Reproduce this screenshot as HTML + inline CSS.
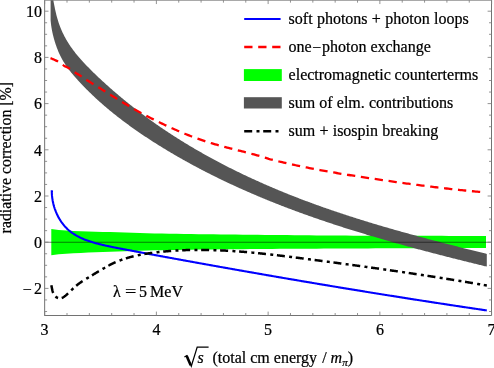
<!DOCTYPE html>
<html><head><meta charset="utf-8"><style>
html,body{margin:0;padding:0;background:#fff;}
body{width:494px;height:368px;overflow:hidden;font-family:"Liberation Serif",serif;}
svg{display:block;will-change:transform;}
text{font-family:"Liberation Serif",serif;font-size:16px;fill:#000;stroke:#000;stroke-width:0.22px;}
</style></head><body>
<svg width="494" height="368" viewBox="0 0 494 368">
<rect width="494" height="368" fill="#fff"/>
<path d="M51.30,229.00 L58.67,230.09 L66.04,230.57 L73.40,230.94 L80.77,231.24 L88.14,231.49 L95.51,231.69 L102.87,231.88 L110.24,232.07 L117.61,232.27 L124.98,232.49 L132.35,232.73 L139.71,232.97 L147.08,233.19 L154.45,233.39 L161.82,233.56 L169.18,233.69 L176.55,233.82 L183.92,233.94 L191.29,234.06 L198.66,234.16 L206.02,234.27 L213.39,234.36 L220.76,234.45 L228.13,234.54 L235.49,234.62 L242.86,234.70 L250.23,234.77 L257.60,234.85 L264.97,234.92 L272.33,234.98 L279.70,235.05 L287.07,235.12 L294.44,235.19 L301.81,235.26 L309.17,235.32 L316.54,235.38 L323.91,235.44 L331.28,235.50 L338.64,235.55 L346.01,235.59 L353.38,235.63 L360.75,235.67 L368.12,235.69 L375.48,235.72 L382.85,235.74 L390.22,235.76 L397.59,235.77 L404.95,235.79 L412.32,235.81 L419.69,235.82 L427.06,235.84 L434.43,235.85 L441.79,235.86 L449.16,235.88 L456.53,235.88 L463.90,235.89 L471.26,235.90 L478.63,235.90 L486.00,235.90 L486.00,247.90 L478.63,247.93 L471.26,247.96 L463.90,247.99 L456.53,248.02 L449.16,248.05 L441.79,248.08 L434.43,248.11 L427.06,248.14 L419.69,248.17 L412.32,248.21 L404.95,248.24 L397.59,248.27 L390.22,248.31 L382.85,248.34 L375.48,248.37 L368.12,248.41 L360.75,248.44 L353.38,248.48 L346.01,248.51 L338.64,248.54 L331.28,248.58 L323.91,248.61 L316.54,248.65 L309.17,248.69 L301.81,248.73 L294.44,248.77 L287.07,248.81 L279.70,248.86 L272.33,248.91 L264.97,248.96 L257.60,249.02 L250.23,249.08 L242.86,249.14 L235.49,249.20 L228.13,249.27 L220.76,249.34 L213.39,249.42 L206.02,249.50 L198.66,249.59 L191.29,249.68 L183.92,249.78 L176.55,249.89 L169.18,250.01 L161.82,250.14 L154.45,250.31 L147.08,250.52 L139.71,250.76 L132.35,251.03 L124.98,251.29 L117.61,251.55 L110.24,251.80 L102.87,252.04 L95.51,252.29 L88.14,252.57 L80.77,252.88 L73.40,253.25 L66.04,253.68 L58.67,254.22 L51.30,255.20 Z" fill="#00ff00"/>
<path d="M52.84,-2.93 L53.00,-1.92 L53.16,-0.90 L53.33,0.12 L53.51,1.14 L53.69,2.17 L53.88,3.20 L54.07,4.23 L54.27,5.27 L54.47,6.30 L54.68,7.34 L54.89,8.39 L55.12,9.43 L55.34,10.47 L55.58,11.52 L55.82,12.56 L56.07,13.60 L56.33,14.65 L56.59,15.69 L56.86,16.73 L57.15,17.77 L57.44,18.80 L57.75,19.84 L58.07,20.87 L58.40,21.89 L58.74,22.92 L59.09,23.94 L59.46,24.96 L59.83,25.97 L60.22,26.97 L60.62,27.97 L61.03,28.97 L61.45,29.96 L61.87,30.94 L62.31,31.92 L62.76,32.89 L63.22,33.85 L63.69,34.80 L64.16,35.74 L64.65,36.68 L65.14,37.61 L65.65,38.53 L66.16,39.43 L66.68,40.33 L67.21,41.22 L67.75,42.11 L68.29,42.98 L68.85,43.84 L69.41,44.70 L69.97,45.55 L70.55,46.39 L71.13,47.23 L71.71,48.05 L72.31,48.87 L72.90,49.69 L73.51,50.49 L74.12,51.30 L74.73,52.09 L75.35,52.88 L75.98,53.67 L76.61,54.44 L77.25,55.22 L77.89,55.99 L78.54,56.75 L79.19,57.51 L79.85,58.27 L80.51,59.02 L81.17,59.77 L81.84,60.52 L82.52,61.26 L83.20,62.00 L83.88,62.74 L84.57,63.47 L85.26,64.20 L85.96,64.93 L86.65,65.66 L87.36,66.39 L88.06,67.11 L88.77,67.84 L89.48,68.56 L90.20,69.29 L90.92,70.01 L91.64,70.73 L92.37,71.45 L93.10,72.17 L93.83,72.88 L94.57,73.60 L95.31,74.32 L96.05,75.03 L96.80,75.74 L97.55,76.46 L98.31,77.17 L99.06,77.88 L99.82,78.58 L100.58,79.29 L101.34,80.00 L102.11,80.70 L102.87,81.41 L103.64,82.11 L104.41,82.81 L105.18,83.51 L105.95,84.21 L106.73,84.91 L107.50,85.60 L108.28,86.30 L109.06,86.99 L109.84,87.68 L110.63,88.38 L111.41,89.07 L112.20,89.75 L112.99,90.44 L113.78,91.13 L114.57,91.81 L115.36,92.50 L116.16,93.18 L116.96,93.86 L117.76,94.54 L118.56,95.21 L119.36,95.89 L120.16,96.57 L120.97,97.24 L121.78,97.91 L122.59,98.58 L123.40,99.25 L124.21,99.92 L125.02,100.59 L125.84,101.25 L126.66,101.91 L127.47,102.58 L128.29,103.24 L129.12,103.90 L129.94,104.55 L130.76,105.21 L131.59,105.86 L132.42,106.52 L133.25,107.17 L134.08,107.82 L134.91,108.46 L135.74,109.11 L136.58,109.76 L137.41,110.40 L138.25,111.04 L139.09,111.68 L139.93,112.32 L140.77,112.96 L141.62,113.59 L142.46,114.22 L143.31,114.86 L144.16,115.49 L145.01,116.11 L145.86,116.74 L146.71,117.37 L147.56,117.99 L148.41,118.61 L149.27,119.23 L150.13,119.85 L150.98,120.47 L151.84,121.08 L152.70,121.69 L153.57,122.30 L154.43,122.91 L155.29,123.52 L156.16,124.13 L157.03,124.73 L157.89,125.34 L158.76,125.94 L159.63,126.54 L160.50,127.13 L161.38,127.73 L162.25,128.33 L163.13,128.92 L164.00,129.51 L164.88,130.10 L165.76,130.69 L166.64,131.27 L167.52,131.86 L168.40,132.44 L169.29,133.02 L170.17,133.60 L171.06,134.18 L171.95,134.76 L172.83,135.33 L173.72,135.90 L174.61,136.47 L175.51,137.04 L176.40,137.61 L177.29,138.18 L178.19,138.74 L179.08,139.31 L179.98,139.87 L180.88,140.43 L181.78,140.99 L182.68,141.54 L183.58,142.10 L184.48,142.65 L185.39,143.21 L186.29,143.76 L187.20,144.31 L188.10,144.85 L189.01,145.40 L189.92,145.94 L190.83,146.48 L191.74,147.03 L192.65,147.57 L193.56,148.10 L194.48,148.64 L195.39,149.17 L196.31,149.71 L197.23,150.24 L198.14,150.77 L199.06,151.30 L199.98,151.82 L200.90,152.35 L201.82,152.87 L202.75,153.39 L203.67,153.92 L204.59,154.43 L205.52,154.95 L206.45,155.47 L207.37,155.98 L208.30,156.50 L209.23,157.01 L210.16,157.52 L211.09,158.03 L212.02,158.53 L212.95,159.04 L213.89,159.54 L214.82,160.04 L215.76,160.54 L216.69,161.04 L217.63,161.54 L218.57,162.04 L219.51,162.53 L220.45,163.03 L221.39,163.52 L222.33,164.01 L223.27,164.50 L224.21,164.98 L225.15,165.47 L226.10,165.95 L227.04,166.44 L227.99,166.92 L228.94,167.40 L229.88,167.88 L230.83,168.35 L231.78,168.83 L232.73,169.30 L233.68,169.78 L234.63,170.25 L235.58,170.72 L236.54,171.19 L237.49,171.65 L238.44,172.12 L239.40,172.58 L240.35,173.04 L241.31,173.50 L242.27,173.96 L243.22,174.42 L244.18,174.88 L245.14,175.33 L246.10,175.79 L247.06,176.24 L248.02,176.69 L248.98,177.14 L249.95,177.59 L250.91,178.04 L251.87,178.48 L252.84,178.93 L253.80,179.37 L254.77,179.81 L255.73,180.25 L256.70,180.69 L257.67,181.12 L258.63,181.56 L259.60,181.99 L260.57,182.43 L261.54,182.86 L262.51,183.29 L263.48,183.72 L264.45,184.14 L265.43,184.57 L266.40,184.99 L267.37,185.42 L268.34,185.84 L269.32,186.26 L270.29,186.68 L271.27,187.10 L272.24,187.51 L273.22,187.93 L274.20,188.34 L275.17,188.75 L276.15,189.16 L277.13,189.57 L278.11,189.98 L279.09,190.39 L280.07,190.80 L281.05,191.20 L282.03,191.60 L283.01,192.00 L283.99,192.40 L284.97,192.80 L285.95,193.20 L286.94,193.60 L287.92,193.99 L288.90,194.39 L289.89,194.78 L290.87,195.17 L291.86,195.56 L292.84,195.95 L293.83,196.34 L294.81,196.72 L295.80,197.11 L296.78,197.49 L297.77,197.87 L298.76,198.25 L299.75,198.63 L300.73,199.01 L301.72,199.39 L302.71,199.76 L303.70,200.14 L304.69,200.51 L305.68,200.88 L306.67,201.25 L307.66,201.62 L308.65,201.99 L309.64,202.36 L310.64,202.73 L311.63,203.09 L312.62,203.46 L313.61,203.82 L314.61,204.18 L315.60,204.54 L316.59,204.90 L317.59,205.26 L318.58,205.61 L319.58,205.97 L320.57,206.33 L321.57,206.68 L322.57,207.03 L323.56,207.38 L324.56,207.73 L325.56,208.08 L326.55,208.43 L327.55,208.78 L328.55,209.12 L329.55,209.47 L330.55,209.81 L331.55,210.16 L332.55,210.50 L333.55,210.84 L334.55,211.18 L335.55,211.52 L336.55,211.85 L337.55,212.19 L338.55,212.53 L339.55,212.86 L340.55,213.19 L341.56,213.53 L342.56,213.86 L343.56,214.19 L344.57,214.52 L345.57,214.85 L346.57,215.18 L347.58,215.50 L348.58,215.83 L349.59,216.15 L350.59,216.48 L351.60,216.80 L352.60,217.12 L353.61,217.44 L354.62,217.77 L355.62,218.08 L356.63,218.40 L357.64,218.72 L358.65,219.04 L359.65,219.35 L360.66,219.67 L361.67,219.98 L362.68,220.30 L363.69,220.61 L364.70,220.92 L365.71,221.23 L366.72,221.54 L367.73,221.85 L368.74,222.16 L369.75,222.47 L370.76,222.77 L371.77,223.08 L372.79,223.39 L373.80,223.69 L374.81,223.99 L375.82,224.30 L376.84,224.60 L377.85,224.90 L378.86,225.20 L379.88,225.50 L380.89,225.80 L381.91,226.10 L382.92,226.40 L383.93,226.69 L384.95,226.99 L385.97,227.29 L386.98,227.58 L388.00,227.87 L389.01,228.17 L390.03,228.46 L391.05,228.75 L392.06,229.05 L393.08,229.34 L394.10,229.63 L395.12,229.92 L396.13,230.20 L397.15,230.49 L398.17,230.78 L399.19,231.07 L400.21,231.35 L401.23,231.64 L402.25,231.93 L403.27,232.21 L404.29,232.49 L405.31,232.78 L406.33,233.06 L407.35,233.34 L408.37,233.62 L409.39,233.91 L410.41,234.19 L411.43,234.47 L412.45,234.75 L413.48,235.03 L414.50,235.30 L415.52,235.58 L416.54,235.86 L417.57,236.14 L418.59,236.41 L419.61,236.69 L420.64,236.96 L421.66,237.24 L422.69,237.51 L423.71,237.79 L424.73,238.06 L425.76,238.33 L426.78,238.61 L427.81,238.88 L428.83,239.15 L429.86,239.42 L430.89,239.69 L431.91,239.96 L432.94,240.23 L433.96,240.50 L434.99,240.77 L436.02,241.04 L437.04,241.31 L438.07,241.58 L439.10,241.85 L440.13,242.12 L441.15,242.38 L442.18,242.65 L443.21,242.92 L444.24,243.18 L445.27,243.45 L446.30,243.71 L447.33,243.98 L448.35,244.24 L449.38,244.51 L450.41,244.77 L451.44,245.04 L452.47,245.30 L453.50,245.56 L454.53,245.83 L455.56,246.09 L456.59,246.35 L457.63,246.61 L458.66,246.88 L459.69,247.14 L460.72,247.40 L461.75,247.66 L462.78,247.92 L463.81,248.18 L464.85,248.44 L465.88,248.70 L466.91,248.96 L467.94,249.22 L468.97,249.48 L470.01,249.74 L471.04,250.00 L472.07,250.26 L473.11,250.52 L474.14,250.78 L475.17,251.04 L476.21,251.30 L477.24,251.56 L478.27,251.82 L479.31,252.07 L480.34,252.33 L481.38,252.59 L482.41,252.85 L483.45,253.11 L484.48,253.37 L485.52,253.62 L486.80,253.88 L486.80,266.57 L485.62,266.36 L484.77,266.16 L483.93,265.95 L483.08,265.74 L482.24,265.54 L481.39,265.33 L480.55,265.12 L479.70,264.91 L478.85,264.70 L478.01,264.50 L477.16,264.29 L476.32,264.08 L475.47,263.87 L474.62,263.66 L473.78,263.45 L472.93,263.24 L472.09,263.04 L471.24,262.83 L470.39,262.62 L469.55,262.41 L468.70,262.20 L467.85,261.99 L467.01,261.78 L466.16,261.57 L465.32,261.35 L464.47,261.14 L463.62,260.93 L462.78,260.72 L461.93,260.51 L461.08,260.30 L460.24,260.08 L459.39,259.87 L458.54,259.66 L457.70,259.45 L456.85,259.23 L456.00,259.02 L455.16,258.81 L454.31,258.59 L453.47,258.38 L452.62,258.17 L451.77,257.95 L450.93,257.74 L450.08,257.52 L449.23,257.31 L448.39,257.09 L447.54,256.88 L446.69,256.66 L445.85,256.44 L445.00,256.23 L444.15,256.01 L443.31,255.79 L442.46,255.58 L441.62,255.36 L440.77,255.14 L439.92,254.92 L439.08,254.71 L438.23,254.49 L437.39,254.27 L436.54,254.05 L435.69,253.83 L434.85,253.61 L434.00,253.39 L433.16,253.17 L432.31,252.95 L431.46,252.73 L430.62,252.51 L429.77,252.29 L428.93,252.06 L428.08,251.84 L427.23,251.62 L426.39,251.40 L425.54,251.17 L424.70,250.95 L423.85,250.73 L423.01,250.50 L422.16,250.28 L421.32,250.05 L420.47,249.83 L419.63,249.60 L418.78,249.38 L417.94,249.15 L417.09,248.93 L416.25,248.70 L415.40,248.47 L414.56,248.24 L413.71,248.02 L412.87,247.79 L412.02,247.56 L411.18,247.33 L410.34,247.10 L409.49,246.87 L408.65,246.64 L407.80,246.41 L406.96,246.18 L406.11,245.95 L405.27,245.72 L404.43,245.49 L403.58,245.26 L402.74,245.02 L401.90,244.79 L401.05,244.56 L400.21,244.32 L399.37,244.09 L398.52,243.85 L397.68,243.62 L396.84,243.38 L396.00,243.15 L395.15,242.91 L394.31,242.68 L393.47,242.44 L392.63,242.20 L391.78,241.96 L390.94,241.73 L390.10,241.49 L389.26,241.25 L388.42,241.01 L387.57,240.77 L386.73,240.53 L385.89,240.29 L385.05,240.05 L384.21,239.81 L383.37,239.56 L382.53,239.32 L381.69,239.08 L380.85,238.83 L380.01,238.59 L379.17,238.35 L378.33,238.10 L377.49,237.86 L376.65,237.61 L375.81,237.36 L374.97,237.12 L374.13,236.87 L373.29,236.62 L372.45,236.37 L371.61,236.13 L370.77,235.88 L369.93,235.63 L369.09,235.38 L368.26,235.13 L367.42,234.88 L366.58,234.63 L365.74,234.37 L364.90,234.12 L364.07,233.87 L363.23,233.61 L362.39,233.36 L361.55,233.11 L360.72,232.85 L359.88,232.60 L359.04,232.34 L358.21,232.08 L357.37,231.83 L356.54,231.57 L355.70,231.31 L354.86,231.05 L354.03,230.79 L353.19,230.53 L352.36,230.27 L351.52,230.01 L350.69,229.75 L349.85,229.49 L349.02,229.23 L348.19,228.96 L347.35,228.70 L346.52,228.44 L345.68,228.17 L344.85,227.91 L344.02,227.64 L343.18,227.38 L342.35,227.11 L341.52,226.84 L340.69,226.57 L339.85,226.30 L339.02,226.04 L338.19,225.77 L337.36,225.50 L336.53,225.23 L335.70,224.95 L334.87,224.68 L334.04,224.41 L333.21,224.14 L332.37,223.86 L331.54,223.59 L330.72,223.31 L329.89,223.04 L329.06,222.76 L328.23,222.48 L327.40,222.21 L326.57,221.93 L325.74,221.65 L324.91,221.37 L324.09,221.09 L323.26,220.81 L322.43,220.53 L321.60,220.25 L320.78,219.97 L319.95,219.68 L319.12,219.40 L318.30,219.12 L317.47,218.83 L316.65,218.55 L315.82,218.26 L314.99,217.97 L314.17,217.69 L313.34,217.40 L312.52,217.11 L311.70,216.82 L310.87,216.53 L310.05,216.24 L309.23,215.95 L308.40,215.65 L307.58,215.36 L306.76,215.07 L305.93,214.77 L305.11,214.48 L304.29,214.18 L303.47,213.89 L302.65,213.59 L301.83,213.29 L301.01,213.00 L300.19,212.70 L299.37,212.40 L298.55,212.10 L297.73,211.80 L296.91,211.49 L296.09,211.19 L295.27,210.89 L294.45,210.59 L293.63,210.28 L292.82,209.98 L292.00,209.67 L291.18,209.36 L290.36,209.06 L289.55,208.75 L288.73,208.44 L287.91,208.13 L287.10,207.82 L286.28,207.51 L285.47,207.20 L284.65,206.88 L283.84,206.57 L283.03,206.26 L282.21,205.94 L281.40,205.63 L280.58,205.31 L279.77,204.99 L278.96,204.68 L278.15,204.36 L277.34,204.04 L276.52,203.72 L275.71,203.40 L274.90,203.08 L274.09,202.75 L273.28,202.43 L272.47,202.11 L271.66,201.78 L270.85,201.46 L270.04,201.13 L269.23,200.80 L268.43,200.48 L267.62,200.15 L266.81,199.82 L266.00,199.49 L265.20,199.16 L264.39,198.83 L263.58,198.49 L262.78,198.16 L261.97,197.83 L261.17,197.49 L260.36,197.16 L259.56,196.82 L258.75,196.48 L257.95,196.14 L257.15,195.80 L256.34,195.46 L255.54,195.12 L254.74,194.78 L253.94,194.44 L253.14,194.10 L252.34,193.75 L251.53,193.41 L250.73,193.06 L249.93,192.72 L249.13,192.37 L248.34,192.02 L247.54,191.67 L246.74,191.32 L245.94,190.97 L245.14,190.62 L244.34,190.27 L243.55,189.91 L242.75,189.56 L241.96,189.20 L241.16,188.85 L240.36,188.49 L239.57,188.13 L238.77,187.77 L237.98,187.41 L237.19,187.05 L236.39,186.69 L235.60,186.33 L234.81,185.97 L234.02,185.60 L233.22,185.24 L232.43,184.87 L231.64,184.51 L230.85,184.14 L230.06,183.77 L229.27,183.40 L228.48,183.03 L227.69,182.66 L226.90,182.29 L226.12,181.91 L225.33,181.54 L224.54,181.16 L223.75,180.79 L222.97,180.41 L222.18,180.03 L221.40,179.66 L220.61,179.28 L219.83,178.90 L219.04,178.51 L218.26,178.13 L217.48,177.75 L216.69,177.36 L215.91,176.98 L215.13,176.59 L214.35,176.21 L213.57,175.82 L212.79,175.43 L212.01,175.04 L211.23,174.65 L210.45,174.26 L209.67,173.86 L208.89,173.47 L208.11,173.07 L207.33,172.68 L206.56,172.28 L205.78,171.88 L205.00,171.48 L204.23,171.08 L203.45,170.68 L202.68,170.28 L201.90,169.88 L201.13,169.47 L200.36,169.07 L199.58,168.66 L198.81,168.26 L198.04,167.85 L197.27,167.44 L196.50,167.03 L195.73,166.62 L194.96,166.21 L194.19,165.79 L193.42,165.38 L192.65,164.97 L191.88,164.55 L191.12,164.13 L190.35,163.71 L189.58,163.30 L188.82,162.87 L188.05,162.45 L187.29,162.03 L186.52,161.61 L185.76,161.18 L184.99,160.76 L184.23,160.33 L183.47,159.90 L182.71,159.48 L181.94,159.05 L181.18,158.62 L180.42,158.18 L179.66,157.75 L178.90,157.32 L178.14,156.88 L177.39,156.45 L176.63,156.01 L175.87,155.57 L175.11,155.13 L174.36,154.69 L173.60,154.25 L172.85,153.81 L172.09,153.36 L171.34,152.92 L170.58,152.47 L169.83,152.02 L169.08,151.58 L168.33,151.13 L167.57,150.68 L166.82,150.23 L166.07,149.77 L165.32,149.32 L164.57,148.86 L163.82,148.41 L163.08,147.95 L162.33,147.49 L161.58,147.03 L160.83,146.57 L160.09,146.11 L159.34,145.65 L158.60,145.19 L157.85,144.72 L157.11,144.25 L156.37,143.79 L155.63,143.32 L154.88,142.85 L154.14,142.38 L153.40,141.91 L152.66,141.43 L151.92,140.96 L151.19,140.48 L150.45,140.01 L149.71,139.53 L148.98,139.05 L148.24,138.57 L147.51,138.09 L146.77,137.60 L146.04,137.12 L145.31,136.63 L144.58,136.15 L143.85,135.66 L143.12,135.17 L142.39,134.68 L141.66,134.19 L140.94,133.70 L140.21,133.20 L139.49,132.71 L138.76,132.21 L138.04,131.71 L137.32,131.21 L136.60,130.71 L135.88,130.21 L135.16,129.71 L134.44,129.20 L133.73,128.70 L133.01,128.19 L132.30,127.68 L131.59,127.17 L130.87,126.66 L130.16,126.15 L129.45,125.63 L128.74,125.12 L128.04,124.60 L127.33,124.08 L126.62,123.56 L125.92,123.04 L125.22,122.52 L124.52,122.00 L123.82,121.47 L123.12,120.95 L122.42,120.42 L121.72,119.89 L121.03,119.36 L120.33,118.83 L119.64,118.30 L118.95,117.76 L118.26,117.23 L117.57,116.69 L116.88,116.15 L116.20,115.61 L115.51,115.07 L114.83,114.52 L114.15,113.98 L113.47,113.43 L112.79,112.89 L112.11,112.34 L111.43,111.79 L110.76,111.24 L110.09,110.68 L109.42,110.13 L108.75,109.57 L108.08,109.01 L107.41,108.45 L106.75,107.89 L106.08,107.33 L105.42,106.77 L104.76,106.20 L104.10,105.64 L103.44,105.07 L102.79,104.50 L102.13,103.93 L101.48,103.35 L100.83,102.78 L100.18,102.20 L99.53,101.63 L98.89,101.05 L98.24,100.47 L97.60,99.88 L96.96,99.30 L96.32,98.71 L95.68,98.13 L95.05,97.54 L94.42,96.95 L93.78,96.36 L93.15,95.76 L92.53,95.17 L91.90,94.57 L91.28,93.97 L90.65,93.37 L90.03,92.77 L89.42,92.17 L88.80,91.57 L88.18,90.96 L87.57,90.35 L86.96,89.74 L86.35,89.13 L85.75,88.52 L85.14,87.90 L84.54,87.29 L83.94,86.67 L83.34,86.05 L82.74,85.43 L82.15,84.81 L81.56,84.18 L80.96,83.55 L80.38,82.93 L79.79,82.30 L79.21,81.67 L78.62,81.03 L78.04,80.40 L77.47,79.76 L76.89,79.12 L76.32,78.48 L75.75,77.84 L75.18,77.20 L74.61,76.55 L74.05,75.90 L73.49,75.25 L72.94,74.60 L72.39,73.95 L71.84,73.29 L71.30,72.63 L70.77,71.97 L70.24,71.30 L69.72,70.63 L69.20,69.96 L68.69,69.29 L68.19,68.61 L67.69,67.93 L67.20,67.25 L66.71,66.56 L66.24,65.87 L65.76,65.17 L65.30,64.48 L64.84,63.77 L64.39,63.07 L63.95,62.36 L63.51,61.64 L63.09,60.92 L62.67,60.20 L62.25,59.47 L61.85,58.74 L61.45,58.00 L61.06,57.26 L60.68,56.51 L60.30,55.76 L59.93,55.01 L59.57,54.24 L59.22,53.48 L58.88,52.71 L58.54,51.93 L58.21,51.15 L57.88,50.37 L57.57,49.58 L57.26,48.78 L56.95,47.98 L56.65,47.18 L56.36,46.37 L56.08,45.56 L55.79,44.74 L55.52,43.92 L55.25,43.10 L54.99,42.27 L54.73,41.44 L54.48,40.60 L54.24,39.76 L54.00,38.92 L53.77,38.07 L53.54,37.22 L53.32,36.37 L53.11,35.51 L52.90,34.65 L52.70,33.79 L52.51,32.92 L52.32,32.05 L52.15,31.18 L51.98,30.30 L51.81,29.42 L51.66,28.54 L51.51,27.66 L51.37,26.77 L51.24,25.88 L51.12,24.99 L51.00,24.09 L50.90,23.19 L50.81,22.29 L50.72,21.39 L50.65,20.48 L50.60,20.48 L50.60,-3.00 Z" fill="#555555"/>
<line x1="44.6" y1="242.20" x2="491.5" y2="242.20" stroke="#000" stroke-opacity="0.5" stroke-width="1.15"/>
<path d="M51.78,190.35 L51.78,191.15 L51.80,191.95 L51.82,192.75 L51.86,193.55 L51.90,194.35 L51.96,195.16 L52.03,195.96 L52.12,196.75 L52.21,197.55 L52.31,198.35 L52.43,199.14 L52.56,199.93 L52.69,200.72 L52.84,201.51 L53.00,202.30 L53.17,203.08 L53.35,203.86 L53.55,204.64 L53.75,205.41 L53.97,206.18 L54.19,206.95 L54.43,207.71 L54.67,208.47 L54.93,209.23 L55.20,209.98 L55.48,210.72 L55.76,211.46 L56.06,212.20 L56.37,212.93 L56.69,213.65 L57.02,214.37 L57.36,215.09 L57.71,215.79 L58.07,216.49 L58.44,217.19 L58.82,217.88 L59.21,218.56 L59.61,219.23 L60.02,219.90 L60.44,220.56 L60.87,221.21 L61.31,221.86 L61.76,222.49 L62.22,223.12 L62.69,223.74 L63.17,224.35 L63.65,224.95 L64.15,225.55 L64.65,226.13 L65.17,226.70 L65.69,227.27 L66.23,227.82 L66.77,228.37 L67.32,228.90 L67.88,229.43 L68.45,229.94 L69.03,230.45 L69.62,230.94 L70.22,231.42 L70.82,231.89 L71.43,232.35 L72.05,232.80 L72.68,233.25 L73.32,233.68 L73.96,234.10 L74.61,234.51 L75.27,234.92 L75.94,235.31 L76.61,235.70 L77.28,236.08 L77.97,236.44 L78.66,236.80 L79.35,237.16 L80.05,237.50 L80.76,237.84 L81.47,238.17 L82.19,238.49 L82.91,238.80 L83.64,239.11 L84.37,239.41 L85.10,239.70 L85.84,239.99 L86.59,240.27 L87.33,240.54 L88.08,240.81 L88.84,241.07 L89.59,241.33 L90.35,241.58 L91.11,241.82 L91.88,242.06 L92.65,242.29 L93.41,242.52 L94.19,242.75 L94.96,242.97 L95.73,243.18 L96.51,243.39 L97.28,243.60 L98.06,243.80 L98.84,244.00 L99.62,244.20 L100.39,244.39 L101.17,244.58 L101.95,244.76 L102.73,244.94 L103.51,245.12 L104.29,245.30 L105.06,245.47 L105.84,245.65 L106.61,245.82 L107.39,245.98 L108.16,246.15 L108.93,246.31 L109.71,246.47 L110.48,246.63 L111.25,246.79 L112.02,246.95 L112.79,247.10 L113.56,247.26 L114.33,247.41 L115.10,247.56 L115.87,247.71 L116.64,247.86 L117.41,248.01 L118.18,248.16 L118.95,248.30 L119.72,248.45 L120.49,248.60 L121.25,248.74 L122.02,248.89 L122.79,249.03 L123.56,249.18 L124.33,249.33 L125.10,249.47 L125.87,249.62 L126.64,249.76 L127.41,249.91 L128.18,250.05 L128.95,250.20 L129.72,250.34 L130.49,250.49 L131.26,250.63 L132.03,250.78 L132.80,250.92 L133.57,251.07 L134.34,251.21 L135.11,251.36 L135.89,251.50 L136.66,251.65 L137.43,251.79 L138.20,251.94 L138.97,252.08 L139.74,252.23 L140.51,252.37 L141.29,252.51 L142.06,252.66 L142.83,252.80 L143.60,252.95 L144.37,253.09 L145.15,253.23 L145.92,253.38 L146.69,253.52 L147.46,253.67 L148.23,253.81 L149.01,253.95 L149.78,254.10 L150.55,254.24 L151.33,254.38 L152.10,254.53 L152.87,254.67 L153.64,254.81 L154.42,254.96 L155.19,255.10 L155.96,255.24 L156.74,255.39 L157.51,255.53 L158.28,255.67 L159.06,255.81 L159.83,255.96 L160.60,256.10 L161.38,256.24 L162.15,256.39 L162.93,256.53 L163.70,256.67 L164.47,256.81 L165.25,256.95 L166.02,257.10 L166.80,257.24 L167.57,257.38 L168.34,257.52 L169.12,257.67 L169.89,257.81 L170.67,257.95 L171.44,258.09 L172.22,258.23 L172.99,258.37 L173.77,258.52 L174.54,258.66 L175.31,258.80 L176.09,258.94 L176.86,259.08 L177.64,259.22 L178.41,259.37 L179.19,259.51 L179.96,259.65 L180.74,259.79 L181.51,259.93 L182.29,260.07 L183.06,260.21 L183.84,260.35 L184.61,260.49 L185.39,260.63 L186.16,260.77 L186.94,260.92 L187.71,261.06 L188.49,261.20 L189.27,261.34 L190.04,261.48 L190.82,261.62 L191.59,261.76 L192.37,261.90 L193.14,262.04 L193.92,262.18 L194.69,262.32 L195.47,262.46 L196.24,262.60 L197.02,262.74 L197.79,262.88 L198.57,263.02 L199.35,263.16 L200.12,263.30 L200.90,263.44 L201.67,263.58 L202.45,263.72 L203.22,263.86 L204.00,264.00 L204.77,264.13 L205.55,264.27 L206.33,264.41 L207.10,264.55 L207.88,264.69 L208.65,264.83 L209.43,264.97 L210.20,265.11 L210.98,265.25 L211.75,265.39 L212.53,265.52 L213.31,265.66 L214.08,265.80 L214.86,265.94 L215.63,266.08 L216.41,266.22 L217.18,266.36 L217.96,266.49 L218.73,266.63 L219.51,266.77 L220.29,266.91 L221.06,267.05 L221.84,267.19 L222.61,267.32 L223.39,267.46 L224.16,267.60 L224.94,267.74 L225.72,267.88 L226.49,268.01 L227.27,268.15 L228.04,268.29 L228.82,268.43 L229.59,268.56 L230.37,268.70 L231.14,268.84 L231.92,268.98 L232.70,269.11 L233.47,269.25 L234.25,269.39 L235.02,269.52 L235.80,269.66 L236.57,269.80 L237.35,269.94 L238.13,270.07 L238.90,270.21 L239.68,270.35 L240.45,270.48 L241.23,270.62 L242.00,270.76 L242.78,270.89 L243.56,271.03 L244.33,271.17 L245.11,271.30 L245.88,271.44 L246.66,271.57 L247.43,271.71 L248.21,271.85 L248.99,271.98 L249.76,272.12 L250.54,272.25 L251.31,272.39 L252.09,272.53 L252.86,272.66 L253.64,272.80 L254.42,272.93 L255.19,273.07 L255.97,273.20 L256.74,273.34 L257.52,273.47 L258.29,273.61 L259.07,273.75 L259.85,273.88 L260.62,274.02 L261.40,274.15 L262.17,274.29 L262.95,274.42 L263.73,274.56 L264.50,274.69 L265.28,274.82 L266.05,274.96 L266.83,275.09 L267.60,275.23 L268.38,275.36 L269.16,275.50 L269.93,275.63 L270.71,275.77 L271.48,275.90 L272.26,276.03 L273.04,276.17 L273.81,276.30 L274.59,276.44 L275.36,276.57 L276.14,276.71 L276.92,276.84 L277.69,276.97 L278.47,277.11 L279.24,277.24 L280.02,277.37 L280.79,277.51 L281.57,277.64 L282.35,277.77 L283.12,277.91 L283.90,278.04 L284.67,278.17 L285.45,278.31 L286.23,278.44 L287.00,278.57 L287.78,278.71 L288.55,278.84 L289.33,278.97 L290.11,279.10 L290.88,279.24 L291.66,279.37 L292.44,279.50 L293.21,279.63 L293.99,279.77 L294.76,279.90 L295.54,280.03 L296.32,280.16 L297.09,280.30 L297.87,280.43 L298.64,280.56 L299.42,280.69 L300.20,280.82 L300.97,280.96 L301.75,281.09 L302.52,281.22 L303.30,281.35 L304.08,281.48 L304.85,281.61 L305.63,281.75 L306.41,281.88 L307.18,282.01 L307.96,282.14 L308.73,282.27 L309.51,282.40 L310.29,282.53 L311.06,282.66 L311.84,282.80 L312.62,282.93 L313.39,283.06 L314.17,283.19 L314.94,283.32 L315.72,283.45 L316.50,283.58 L317.27,283.71 L318.05,283.84 L318.83,283.97 L319.60,284.10 L320.38,284.23 L321.15,284.36 L321.93,284.49 L322.71,284.62 L323.48,284.75 L324.26,284.88 L325.04,285.01 L325.81,285.14 L326.59,285.27 L327.37,285.40 L328.14,285.53 L328.92,285.66 L329.70,285.79 L330.47,285.92 L331.25,286.05 L332.02,286.18 L332.80,286.30 L333.58,286.43 L334.35,286.56 L335.13,286.69 L335.91,286.82 L336.68,286.95 L337.46,287.08 L338.24,287.21 L339.01,287.34 L339.79,287.46 L340.57,287.59 L341.34,287.72 L342.12,287.85 L342.90,287.98 L343.67,288.11 L344.45,288.23 L345.23,288.36 L346.00,288.49 L346.78,288.62 L347.56,288.75 L348.33,288.87 L349.11,289.00 L349.89,289.13 L350.66,289.26 L351.44,289.38 L352.22,289.51 L352.99,289.64 L353.77,289.77 L354.55,289.89 L355.32,290.02 L356.10,290.15 L356.88,290.27 L357.65,290.40 L358.43,290.53 L359.21,290.65 L359.98,290.78 L360.76,290.91 L361.54,291.03 L362.32,291.16 L363.09,291.29 L363.87,291.41 L364.65,291.54 L365.42,291.67 L366.20,291.79 L366.98,291.92 L367.75,292.04 L368.53,292.17 L369.31,292.30 L370.09,292.42 L370.86,292.55 L371.64,292.67 L372.42,292.80 L373.19,292.92 L373.97,293.05 L374.75,293.17 L375.52,293.30 L376.30,293.42 L377.08,293.55 L377.86,293.67 L378.63,293.80 L379.41,293.92 L380.19,294.05 L380.96,294.17 L381.74,294.30 L382.52,294.42 L383.30,294.55 L384.07,294.67 L384.85,294.80 L385.63,294.92 L386.41,295.05 L387.18,295.17 L387.96,295.29 L388.74,295.42 L389.51,295.54 L390.29,295.67 L391.07,295.79 L391.85,295.91 L392.62,296.04 L393.40,296.16 L394.18,296.28 L394.96,296.41 L395.73,296.53 L396.51,296.65 L397.29,296.78 L398.07,296.90 L398.84,297.02 L399.62,297.15 L400.40,297.27 L401.18,297.39 L401.95,297.52 L402.73,297.64 L403.51,297.76 L404.29,297.88 L405.06,298.01 L405.84,298.13 L406.62,298.25 L407.40,298.37 L408.17,298.49 L408.95,298.62 L409.73,298.74 L410.51,298.86 L411.29,298.98 L412.06,299.10 L412.84,299.23 L413.62,299.35 L414.40,299.47 L415.17,299.59 L415.95,299.71 L416.73,299.83 L417.51,299.95 L418.29,300.08 L419.06,300.20 L419.84,300.32 L420.62,300.44 L421.40,300.56 L422.17,300.68 L422.95,300.80 L423.73,300.92 L424.51,301.04 L425.29,301.16 L426.06,301.28 L426.84,301.40 L427.62,301.52 L428.40,301.64 L429.18,301.76 L429.95,301.88 L430.73,302.00 L431.51,302.12 L432.29,302.24 L433.07,302.36 L433.85,302.48 L434.62,302.60 L435.40,302.72 L436.18,302.84 L436.96,302.96 L437.74,303.08 L438.51,303.20 L439.29,303.32 L440.07,303.44 L440.85,303.56 L441.63,303.68 L442.41,303.79 L443.18,303.91 L443.96,304.03 L444.74,304.15 L445.52,304.27 L446.30,304.39 L447.08,304.51 L447.85,304.62 L448.63,304.74 L449.41,304.86 L450.19,304.98 L450.97,305.10 L451.75,305.21 L452.53,305.33 L453.30,305.45 L454.08,305.57 L454.86,305.68 L455.64,305.80 L456.42,305.92 L457.20,306.04 L457.98,306.15 L458.75,306.27 L459.53,306.39 L460.31,306.50 L461.09,306.62 L461.87,306.74 L462.65,306.85 L463.43,306.97 L464.21,307.09 L464.98,307.20 L465.76,307.32 L466.54,307.44 L467.32,307.55 L468.10,307.67 L468.88,307.79 L469.66,307.90 L470.44,308.02 L471.22,308.13 L471.99,308.25 L472.77,308.36 L473.55,308.48 L474.33,308.60 L475.11,308.71 L475.89,308.83 L476.67,308.94 L477.45,309.06 L478.23,309.17 L479.01,309.29 L479.79,309.40 L480.56,309.52 L481.34,309.63 L482.12,309.75 L482.90,309.86 L483.68,309.98 L484.46,310.09 L485.24,310.20 L486.02,310.32 L486.80,310.43" fill="none" stroke="#0000ff" stroke-width="2.1" stroke-linejoin="round"/>
<path d="M50.50,58.20 L51.97,58.73 L53.41,59.31 L54.82,59.94 L56.20,60.62 L57.55,61.34 L58.87,62.11 L60.13,62.99 L61.37,63.92 L62.63,64.83 L63.93,65.64 L65.28,66.39 L66.65,67.10 L68.02,67.82 L69.36,68.58 L70.66,69.39 L71.93,70.26 L73.19,71.16 L74.45,72.06 L75.73,72.91 L77.04,73.73 L78.36,74.53 L79.68,75.32 L80.99,76.14 L82.28,76.98 L83.55,77.85 L84.82,78.73 L86.09,79.60 L87.38,80.44 L88.68,81.26 L89.99,82.08 L91.31,82.88 L92.62,83.69 L93.94,84.49 L95.25,85.30 L96.57,86.11 L97.88,86.92 L99.19,87.73 L100.51,88.54 L101.82,89.36 L103.13,90.18 L104.44,91.00 L105.75,91.82 L107.06,92.64 L108.37,93.46 L109.68,94.28 L110.99,95.10 L112.30,95.92 L113.62,96.73 L114.93,97.55 L116.24,98.37 L117.56,99.18 L118.87,99.99 L120.19,100.80 L121.51,101.61 L122.82,102.42 L124.14,103.22 L125.47,104.02 L126.79,104.81 L128.11,105.60 L129.44,106.39 L130.77,107.17 L132.10,107.95 L133.43,108.72 L134.77,109.49 L136.11,110.25 L137.45,111.01 L138.79,111.76 L140.14,112.50 L141.48,113.24 L142.84,113.97 L144.19,114.70 L145.55,115.41 L146.91,116.12 L148.27,116.83 L149.64,117.52 L151.01,118.21 L152.38,118.89 L153.76,119.57 L155.14,120.25 L156.52,120.93 L157.91,121.61 L159.29,122.28 L160.69,122.95 L162.08,123.62 L163.47,124.28 L164.87,124.94 L166.27,125.60 L167.68,126.25 L169.08,126.90 L170.49,127.54 L171.90,128.18 L173.31,128.82 L174.73,129.45 L176.15,130.07 L177.56,130.69 L178.99,131.31 L180.41,131.91 L181.83,132.52 L183.26,133.11 L184.69,133.70 L186.12,134.28 L187.55,134.86 L188.99,135.43 L190.43,135.99 L191.86,136.54 L193.30,137.09 L194.74,137.63 L196.19,138.16 L197.63,138.68 L199.08,139.19 L200.52,139.70 L201.97,140.19 L203.42,140.68 L204.88,141.16 L206.34,141.63 L207.80,142.09 L209.27,142.54 L210.74,142.99 L212.21,143.43 L213.68,143.86 L215.16,144.28 L216.64,144.70 L218.12,145.12 L219.61,145.53 L221.10,145.93 L222.58,146.34 L224.08,146.73 L225.57,147.13 L227.06,147.52 L228.56,147.90 L230.05,148.29 L231.55,148.67 L233.05,149.05 L234.55,149.43 L236.04,149.81 L237.54,150.19 L239.04,150.57 L240.54,150.95 L242.04,151.34 L243.54,151.72 L245.04,152.10 L246.53,152.49 L248.03,152.88 L249.53,153.27 L251.02,153.66 L252.52,154.06 L254.01,154.46 L255.50,154.87 L256.99,155.28 L258.47,155.69 L259.96,156.12 L261.44,156.54 L262.92,156.98 L264.39,157.42 L265.87,157.88 L267.33,158.37 L268.80,158.85 L270.27,159.27 L271.76,159.65 L273.25,160.03 L274.73,160.40 L276.22,160.77 L277.72,161.14 L279.21,161.50 L280.70,161.86 L282.20,162.21 L283.69,162.56 L285.19,162.91 L286.69,163.26 L288.19,163.60 L289.69,163.93 L291.20,164.27 L292.70,164.60 L294.21,164.93 L295.71,165.25 L297.22,165.57 L298.73,165.89 L300.24,166.21 L301.75,166.52 L303.26,166.83 L304.77,167.14 L306.28,167.44 L307.80,167.74 L309.31,168.04 L310.83,168.34 L312.34,168.63 L313.86,168.92 L315.38,169.21 L316.90,169.49 L318.42,169.78 L319.93,170.06 L321.46,170.34 L322.98,170.61 L324.50,170.89 L326.02,171.16 L327.54,171.43 L329.06,171.69 L330.59,171.96 L332.11,172.22 L333.63,172.48 L335.16,172.74 L336.68,173.00 L338.21,173.26 L339.73,173.51 L341.26,173.76 L342.78,174.01 L344.31,174.26 L345.84,174.51 L347.36,174.76 L348.89,175.00 L350.41,175.24 L351.94,175.48 L353.47,175.72 L354.99,175.96 L356.52,176.20 L358.04,176.44 L359.57,176.67 L361.10,176.91 L362.62,177.14 L364.15,177.37 L365.67,177.60 L367.20,177.83 L368.72,178.06 L370.24,178.29 L371.77,178.52 L373.29,178.75 L374.81,178.97 L376.34,179.20 L377.86,179.42 L379.38,179.65 L380.91,179.87 L382.43,180.09 L383.95,180.31 L385.48,180.53 L387.00,180.75 L388.53,180.97 L390.05,181.19 L391.57,181.41 L393.10,181.62 L394.63,181.84 L396.15,182.05 L397.68,182.27 L399.20,182.48 L400.73,182.69 L402.25,182.90 L403.78,183.11 L405.31,183.32 L406.84,183.52 L408.36,183.73 L409.89,183.94 L411.42,184.14 L412.95,184.34 L414.47,184.54 L416.00,184.74 L417.53,184.94 L419.06,185.14 L420.59,185.34 L422.12,185.54 L423.65,185.73 L425.18,185.92 L426.71,186.12 L428.24,186.31 L429.77,186.50 L431.30,186.69 L432.83,186.87 L434.36,187.06 L435.89,187.24 L437.42,187.43 L438.95,187.61 L440.48,187.79 L442.02,187.97 L443.55,188.15 L445.08,188.33 L446.61,188.50 L448.15,188.67 L449.68,188.85 L451.21,189.02 L452.75,189.19 L454.28,189.36 L455.81,189.52 L457.35,189.69 L458.88,189.85 L460.42,190.02 L461.95,190.18 L463.49,190.34 L465.02,190.49 L466.56,190.65 L468.09,190.80 L469.63,190.96 L471.16,191.11 L472.70,191.26 L474.24,191.41 L475.77,191.55 L477.31,191.70 L478.85,191.84 L480.39,191.98 L481.92,192.12 L483.46,192.26 L485.00,192.40" fill="none" stroke="#ff0000" stroke-width="2.3" stroke-dasharray="8.3 5.7" stroke-linejoin="round"/>
<path d="M51.31,285.22 L51.43,285.71 L51.54,286.23 L51.65,286.77 L51.75,287.32 L51.86,287.88 L51.97,288.45 L52.09,289.03 L52.21,289.62 L52.34,290.21 L52.48,290.79 L52.64,291.38 L52.81,291.96 L53.00,292.52 L53.21,293.08 L53.44,293.63 L53.69,294.16 L53.97,294.67 L54.27,295.15 L54.61,295.62 L54.98,296.05 L55.38,296.46 L55.81,296.84 L56.26,297.18 L56.74,297.48 L57.24,297.74 L57.76,297.96 L58.28,298.13 L58.82,298.25 L59.36,298.32 L59.91,298.33 L60.45,298.29 L60.99,298.19 L61.53,298.04 L62.06,297.84 L62.58,297.60 L63.10,297.33 L63.61,297.03 L64.10,296.70 L64.59,296.35 L65.07,295.99 L65.53,295.63 L65.98,295.25 L66.43,294.87 L66.86,294.48 L67.30,294.08 L67.72,293.69 L68.15,293.29 L68.57,292.90 L68.99,292.50 L69.41,292.10 L69.82,291.70 L70.24,291.30 L70.65,290.90 L71.06,290.50 L71.47,290.11 L71.88,289.71 L72.30,289.31 L72.71,288.92 L73.12,288.53 L73.54,288.14 L73.96,287.76 L74.38,287.37 L74.80,287.00 L75.22,286.62 L75.65,286.25 L76.08,285.88 L76.52,285.52 L76.96,285.16 L77.40,284.81 L77.85,284.46 L78.30,284.12 L78.76,283.77 L79.21,283.44 L79.67,283.10 L80.14,282.77 L80.60,282.45 L81.07,282.12 L81.55,281.80 L82.02,281.48 L82.50,281.17 L82.98,280.85 L83.46,280.54 L83.94,280.23 L84.43,279.92 L84.91,279.62 L85.40,279.31 L85.89,279.01 L86.38,278.71 L86.87,278.41 L87.37,278.11 L87.86,277.81 L88.36,277.51 L88.85,277.22 L89.35,276.92 L89.85,276.62 L90.34,276.32 L90.84,276.03 L91.34,275.73 L91.83,275.43 L92.33,275.13 L92.83,274.83 L93.32,274.53 L93.82,274.23 L94.32,273.93 L94.81,273.63 L95.31,273.33 L95.81,273.03 L96.30,272.73 L96.80,272.43 L97.30,272.13 L97.79,271.83 L98.29,271.53 L98.79,271.23 L99.29,270.94 L99.78,270.64 L100.28,270.34 L100.78,270.05 L101.28,269.75 L101.78,269.46 L102.28,269.17 L102.78,268.87 L103.28,268.58 L103.78,268.29 L104.29,268.01 L104.79,267.72 L105.29,267.44 L105.80,267.16 L106.30,266.88 L106.81,266.60 L107.31,266.32 L107.82,266.05 L108.33,265.77 L108.84,265.50 L109.35,265.24 L109.86,264.97 L110.37,264.71 L110.88,264.45 L111.40,264.19 L111.91,263.94 L112.43,263.69 L112.94,263.44 L113.46,263.19 L113.98,262.95 L114.50,262.71 L115.02,262.47 L115.55,262.24 L116.07,262.01 L116.60,261.79 L117.13,261.56 L117.65,261.34 L118.18,261.13 L118.71,260.92 L119.25,260.71 L119.78,260.50 L120.31,260.30 L120.85,260.10 L121.39,259.90 L121.92,259.71 L122.46,259.52 L123.00,259.33 L123.54,259.14 L124.09,258.96 L124.63,258.78 L125.17,258.61 L125.72,258.43 L126.27,258.26 L126.81,258.09 L127.36,257.93 L127.91,257.77 L128.46,257.61 L129.01,257.45 L129.56,257.30 L130.11,257.14 L130.67,257.00 L131.22,256.85 L131.77,256.70 L132.33,256.56 L132.89,256.42 L133.44,256.29 L134.00,256.15 L134.56,256.02 L135.12,255.89 L135.68,255.76 L136.24,255.63 L136.80,255.51 L137.36,255.39 L137.92,255.27 L138.49,255.15 L139.05,255.04 L139.61,254.92 L140.18,254.81 L140.74,254.70 L141.31,254.60 L141.87,254.49 L142.44,254.39 L143.01,254.28 L143.57,254.18 L144.14,254.09 L144.71,253.99 L145.28,253.89 L145.85,253.80 L146.42,253.71 L146.98,253.62 L147.55,253.53 L148.12,253.44 L148.69,253.36 L149.26,253.27 L149.83,253.19 L150.41,253.11 L150.98,253.03 L151.55,252.95 L152.12,252.87 L152.69,252.80 L153.26,252.72 L153.83,252.65 L154.40,252.57 L154.98,252.50 L155.55,252.43 L156.12,252.36 L156.69,252.29 L157.26,252.23 L157.83,252.16 L158.41,252.10 L158.98,252.03 L159.55,251.97 L160.12,251.91 L160.69,251.85 L161.26,251.79 L161.84,251.73 L162.41,251.67 L162.98,251.61 L163.55,251.55 L164.12,251.50 L164.70,251.45 L165.27,251.39 L165.84,251.34 L166.41,251.29 L166.98,251.24 L167.56,251.19 L168.13,251.14 L168.70,251.10 L169.27,251.05 L169.85,251.00 L170.42,250.96 L170.99,250.92 L171.56,250.87 L172.13,250.83 L172.71,250.79 L173.28,250.75 L173.85,250.72 L174.42,250.68 L175.00,250.64 L175.57,250.61 L176.14,250.57 L176.71,250.54 L177.29,250.50 L177.86,250.47 L178.43,250.44 L179.00,250.41 L179.57,250.38 L180.15,250.35 L180.72,250.33 L181.29,250.30 L181.86,250.27 L182.44,250.25 L183.01,250.22 L183.58,250.20 L184.16,250.18 L184.73,250.16 L185.30,250.14 L185.87,250.12 L186.45,250.10 L187.02,250.08 L187.59,250.06 L188.16,250.05 L188.74,250.03 L189.31,250.02 L189.88,250.00 L190.45,249.99 L191.03,249.98 L191.60,249.97 L192.17,249.96 L192.75,249.95 L193.32,249.94 L193.89,249.93 L194.46,249.92 L195.04,249.92 L195.61,249.91 L196.18,249.91 L196.76,249.90 L197.33,249.90 L197.90,249.90 L198.47,249.90 L199.05,249.90 L199.62,249.90 L200.19,249.90 L200.77,249.90 L201.34,249.90 L201.91,249.90 L202.48,249.91 L203.06,249.91 L203.63,249.91 L204.20,249.92 L204.78,249.93 L205.35,249.93 L205.92,249.94 L206.50,249.95 L207.07,249.96 L207.64,249.97 L208.21,249.98 L208.79,249.99 L209.36,250.01 L209.93,250.02 L210.51,250.03 L211.08,250.05 L211.65,250.06 L212.23,250.08 L212.80,250.09 L213.37,250.11 L213.95,250.13 L214.52,250.15 L215.09,250.17 L215.66,250.18 L216.24,250.21 L216.81,250.23 L217.38,250.25 L217.96,250.27 L218.53,250.29 L219.10,250.32 L219.68,250.34 L220.25,250.37 L220.82,250.39 L221.40,250.42 L221.97,250.44 L222.54,250.47 L223.11,250.50 L223.69,250.53 L224.26,250.56 L224.83,250.59 L225.41,250.62 L225.98,250.65 L226.55,250.68 L227.13,250.71 L227.70,250.74 L228.27,250.77 L228.85,250.81 L229.42,250.84 L229.99,250.88 L230.56,250.91 L231.14,250.95 L231.71,250.99 L232.28,251.02 L232.86,251.06 L233.43,251.10 L234.00,251.14 L234.58,251.18 L235.15,251.21 L235.72,251.25 L236.29,251.30 L236.87,251.34 L237.44,251.38 L238.01,251.42 L238.59,251.46 L239.16,251.51 L239.73,251.55 L240.31,251.59 L240.88,251.64 L241.45,251.68 L242.02,251.73 L242.60,251.77 L243.17,251.82 L243.74,251.87 L244.32,251.92 L244.89,251.96 L245.46,252.01 L246.03,252.06 L246.61,252.11 L247.18,252.16 L247.75,252.21 L248.33,252.26 L248.90,252.31 L249.47,252.36 L250.04,252.41 L250.62,252.47 L251.19,252.52 L251.76,252.57 L252.34,252.63 L252.91,252.68 L253.48,252.73 L254.05,252.79 L254.63,252.84 L255.20,252.90 L255.77,252.95 L256.35,253.01 L256.92,253.07 L257.49,253.12 L258.06,253.18 L258.64,253.24 L259.21,253.30 L259.78,253.35 L260.35,253.41 L260.93,253.47 L261.50,253.53 L262.07,253.59 L262.64,253.65 L263.22,253.71 L263.79,253.77 L264.36,253.83 L264.93,253.89 L265.51,253.96 L266.08,254.02 L266.65,254.08 L267.22,254.14 L267.80,254.21 L268.37,254.27 L268.94,254.33 L269.51,254.40 L270.09,254.46 L270.66,254.52 L271.23,254.59 L271.80,254.65 L272.37,254.72 L272.95,254.78 L273.52,254.85 L274.09,254.92 L274.66,254.98 L275.24,255.05 L275.81,255.11 L276.38,255.18 L276.95,255.25 L277.52,255.32 L278.10,255.38 L278.67,255.45 L279.24,255.52 L279.81,255.59 L280.38,255.66 L280.96,255.72 L281.53,255.79 L282.10,255.86 L282.67,255.93 L283.24,256.00 L283.82,256.07 L284.39,256.14 L284.96,256.21 L285.53,256.28 L286.10,256.35 L286.67,256.42 L287.25,256.49 L287.82,256.56 L288.39,256.63 L288.96,256.70 L289.53,256.78 L290.10,256.85 L290.68,256.92 L291.25,256.99 L291.82,257.06 L292.39,257.13 L292.96,257.21 L293.53,257.28 L294.10,257.35 L294.68,257.42 L295.25,257.49 L295.82,257.57 L296.39,257.64 L296.96,257.71 L297.53,257.79 L298.10,257.86 L298.68,257.93 L299.25,258.01 L299.82,258.08 L300.39,258.15 L300.96,258.23 L301.53,258.30 L302.10,258.37 L302.67,258.45 L303.24,258.52 L303.81,258.59 L304.39,258.67 L304.96,258.74 L305.53,258.81 L306.10,258.89 L306.67,258.96 L307.24,259.04 L307.81,259.11 L308.38,259.18 L308.95,259.26 L309.52,259.33 L310.09,259.41 L310.66,259.48 L311.23,259.55 L311.80,259.63 L312.37,259.70 L312.94,259.78 L313.51,259.85 L314.09,259.93 L314.66,260.00 L315.23,260.07 L315.80,260.15 L316.37,260.22 L316.94,260.30 L317.51,260.37 L318.08,260.45 L318.65,260.52 L319.22,260.60 L319.79,260.67 L320.36,260.75 L320.93,260.82 L321.50,260.89 L322.07,260.97 L322.64,261.04 L323.21,261.12 L323.78,261.19 L324.35,261.27 L324.92,261.34 L325.49,261.42 L326.06,261.49 L326.63,261.57 L327.20,261.64 L327.76,261.72 L328.33,261.80 L328.90,261.87 L329.47,261.95 L330.04,262.02 L330.61,262.10 L331.18,262.17 L331.75,262.25 L332.32,262.32 L332.89,262.40 L333.46,262.47 L334.03,262.55 L334.60,262.63 L335.17,262.70 L335.74,262.78 L336.31,262.85 L336.88,262.93 L337.45,263.00 L338.01,263.08 L338.58,263.16 L339.15,263.23 L339.72,263.31 L340.29,263.39 L340.86,263.46 L341.43,263.54 L342.00,263.61 L342.57,263.69 L343.14,263.77 L343.71,263.84 L344.28,263.92 L344.84,264.00 L345.41,264.07 L345.98,264.15 L346.55,264.23 L347.12,264.30 L347.69,264.38 L348.26,264.46 L348.83,264.53 L349.40,264.61 L349.96,264.69 L350.53,264.76 L351.10,264.84 L351.67,264.92 L352.24,265.00 L352.81,265.07 L353.38,265.15 L353.94,265.23 L354.51,265.31 L355.08,265.38 L355.65,265.46 L356.22,265.54 L356.79,265.62 L357.36,265.69 L357.92,265.77 L358.49,265.85 L359.06,265.93 L359.63,266.01 L360.20,266.08 L360.77,266.16 L361.34,266.24 L361.90,266.32 L362.47,266.40 L363.04,266.47 L363.61,266.55 L364.18,266.63 L364.75,266.71 L365.31,266.79 L365.88,266.87 L366.45,266.95 L367.02,267.02 L367.59,267.10 L368.16,267.18 L368.72,267.26 L369.29,267.34 L369.86,267.42 L370.43,267.50 L371.00,267.58 L371.56,267.66 L372.13,267.74 L372.70,267.82 L373.27,267.90 L373.84,267.97 L374.41,268.05 L374.97,268.13 L375.54,268.21 L376.11,268.29 L376.68,268.37 L377.25,268.45 L377.81,268.53 L378.38,268.61 L378.95,268.69 L379.52,268.77 L380.09,268.85 L380.65,268.93 L381.22,269.01 L381.79,269.10 L382.36,269.18 L382.92,269.26 L383.49,269.34 L384.06,269.42 L384.63,269.50 L385.20,269.58 L385.76,269.66 L386.33,269.74 L386.90,269.82 L387.47,269.90 L388.04,269.99 L388.60,270.07 L389.17,270.15 L389.74,270.23 L390.31,270.31 L390.87,270.39 L391.44,270.47 L392.01,270.56 L392.58,270.64 L393.15,270.72 L393.71,270.80 L394.28,270.88 L394.85,270.97 L395.42,271.05 L395.98,271.13 L396.55,271.21 L397.12,271.30 L397.69,271.38 L398.25,271.46 L398.82,271.54 L399.39,271.63 L399.96,271.71 L400.53,271.79 L401.09,271.88 L401.66,271.96 L402.23,272.04 L402.80,272.13 L403.36,272.21 L403.93,272.29 L404.50,272.38 L405.07,272.46 L405.63,272.54 L406.20,272.63 L406.77,272.71 L407.34,272.79 L407.90,272.88 L408.47,272.96 L409.04,273.05 L409.61,273.13 L410.17,273.22 L410.74,273.30 L411.31,273.38 L411.88,273.47 L412.44,273.55 L413.01,273.64 L413.58,273.72 L414.15,273.81 L414.71,273.89 L415.28,273.98 L415.85,274.06 L416.42,274.15 L416.98,274.23 L417.55,274.32 L418.12,274.41 L418.69,274.49 L419.25,274.58 L419.82,274.66 L420.39,274.75 L420.96,274.84 L421.52,274.92 L422.09,275.01 L422.66,275.09 L423.23,275.18 L423.79,275.27 L424.36,275.35 L424.93,275.44 L425.50,275.53 L426.06,275.61 L426.63,275.70 L427.20,275.79 L427.77,275.88 L428.34,275.96 L428.90,276.05 L429.47,276.14 L430.04,276.22 L430.61,276.31 L431.17,276.40 L431.74,276.49 L432.31,276.58 L432.88,276.66 L433.44,276.75 L434.01,276.84 L434.58,276.93 L435.15,277.02 L435.71,277.11 L436.28,277.19 L436.85,277.28 L437.42,277.37 L437.98,277.46 L438.55,277.55 L439.12,277.64 L439.69,277.73 L440.25,277.82 L440.82,277.91 L441.39,278.00 L441.96,278.09 L442.52,278.18 L443.09,278.27 L443.66,278.36 L444.23,278.45 L444.79,278.54 L445.36,278.63 L445.93,278.72 L446.50,278.81 L447.07,278.90 L447.63,278.99 L448.20,279.08 L448.77,279.17 L449.34,279.26 L449.90,279.35 L450.47,279.44 L451.04,279.53 L451.61,279.63 L452.17,279.72 L452.74,279.81 L453.31,279.90 L453.88,279.99 L454.45,280.09 L455.01,280.18 L455.58,280.27 L456.15,280.36 L456.72,280.45 L457.28,280.55 L457.85,280.64 L458.42,280.73 L458.99,280.82 L459.56,280.92 L460.12,281.01 L460.69,281.10 L461.26,281.20 L461.83,281.29 L462.40,281.38 L462.96,281.48 L463.53,281.57 L464.10,281.67 L464.67,281.76 L465.24,281.85 L465.80,281.95 L466.37,282.04 L466.94,282.14 L467.51,282.23 L468.08,282.33 L468.64,282.42 L469.21,282.52 L469.78,282.61 L470.35,282.71 L470.92,282.80 L471.48,282.90 L472.05,282.99 L472.62,283.09 L473.19,283.18 L473.76,283.28 L474.32,283.38 L474.89,283.47 L475.46,283.57 L476.03,283.66 L476.60,283.76 L477.17,283.86 L477.73,283.95 L478.30,284.05 L478.87,284.15 L479.44,284.25 L480.01,284.34 L480.57,284.44 L481.14,284.54 L481.71,284.63 L482.28,284.73 L482.85,284.83 L483.42,284.93 L483.99,285.03 L484.55,285.12 L485.12,285.22 L485.69,285.32 L486.26,285.42 L486.83,285.52" fill="none" stroke="#000" stroke-width="2.5" stroke-dasharray="8 4.3 3 3.7" stroke-linejoin="round"/>
<g stroke-width="1" fill="none">
<path d="M44.6,0.15 H491.5" stroke="#7a7a7a"/>
<path d="M491.5,0.15 V315.5 H44.6" stroke="#727272"/>
<path d="M44.6,316.0 V0.15" stroke="#848484" stroke-width="1.15"/>
</g>
<g stroke="#808080" stroke-width="0.85" fill="none">
<line x1="44.65" y1="315.5" x2="44.65" y2="311.6"/><line x1="44.65" y1="0.15" x2="44.65" y2="4.05"/><line x1="67.00" y1="315.5" x2="67.00" y2="313.0"/><line x1="67.00" y1="0.15" x2="67.00" y2="2.65"/><line x1="89.35" y1="315.5" x2="89.35" y2="313.0"/><line x1="89.35" y1="0.15" x2="89.35" y2="2.65"/><line x1="111.69" y1="315.5" x2="111.69" y2="313.0"/><line x1="111.69" y1="0.15" x2="111.69" y2="2.65"/><line x1="134.04" y1="315.5" x2="134.04" y2="313.0"/><line x1="134.04" y1="0.15" x2="134.04" y2="2.65"/><line x1="156.39" y1="315.5" x2="156.39" y2="311.6"/><line x1="156.39" y1="0.15" x2="156.39" y2="4.05"/><line x1="178.74" y1="315.5" x2="178.74" y2="313.0"/><line x1="178.74" y1="0.15" x2="178.74" y2="2.65"/><line x1="201.09" y1="315.5" x2="201.09" y2="313.0"/><line x1="201.09" y1="0.15" x2="201.09" y2="2.65"/><line x1="223.43" y1="315.5" x2="223.43" y2="313.0"/><line x1="223.43" y1="0.15" x2="223.43" y2="2.65"/><line x1="245.78" y1="315.5" x2="245.78" y2="313.0"/><line x1="245.78" y1="0.15" x2="245.78" y2="2.65"/><line x1="268.13" y1="315.5" x2="268.13" y2="311.6"/><line x1="268.13" y1="0.15" x2="268.13" y2="4.05"/><line x1="290.48" y1="315.5" x2="290.48" y2="313.0"/><line x1="290.48" y1="0.15" x2="290.48" y2="2.65"/><line x1="312.83" y1="315.5" x2="312.83" y2="313.0"/><line x1="312.83" y1="0.15" x2="312.83" y2="2.65"/><line x1="335.17" y1="315.5" x2="335.17" y2="313.0"/><line x1="335.17" y1="0.15" x2="335.17" y2="2.65"/><line x1="357.52" y1="315.5" x2="357.52" y2="313.0"/><line x1="357.52" y1="0.15" x2="357.52" y2="2.65"/><line x1="379.87" y1="315.5" x2="379.87" y2="311.6"/><line x1="379.87" y1="0.15" x2="379.87" y2="4.05"/><line x1="402.22" y1="315.5" x2="402.22" y2="313.0"/><line x1="402.22" y1="0.15" x2="402.22" y2="2.65"/><line x1="424.57" y1="315.5" x2="424.57" y2="313.0"/><line x1="424.57" y1="0.15" x2="424.57" y2="2.65"/><line x1="446.91" y1="315.5" x2="446.91" y2="313.0"/><line x1="446.91" y1="0.15" x2="446.91" y2="2.65"/><line x1="469.26" y1="315.5" x2="469.26" y2="313.0"/><line x1="469.26" y1="0.15" x2="469.26" y2="2.65"/><line x1="491.61" y1="315.5" x2="491.61" y2="311.6"/><line x1="491.61" y1="0.15" x2="491.61" y2="4.05"/><line x1="44.6" y1="311.50" x2="47.1" y2="311.50"/><line x1="491.5" y1="311.50" x2="489.0" y2="311.50"/><line x1="44.6" y1="299.95" x2="47.1" y2="299.95"/><line x1="491.5" y1="299.95" x2="489.0" y2="299.95"/><line x1="44.6" y1="288.40" x2="48.5" y2="288.40"/><line x1="491.5" y1="288.40" x2="487.6" y2="288.40"/><line x1="44.6" y1="276.85" x2="47.1" y2="276.85"/><line x1="491.5" y1="276.85" x2="489.0" y2="276.85"/><line x1="44.6" y1="265.30" x2="47.1" y2="265.30"/><line x1="491.5" y1="265.30" x2="489.0" y2="265.30"/><line x1="44.6" y1="253.75" x2="47.1" y2="253.75"/><line x1="491.5" y1="253.75" x2="489.0" y2="253.75"/><line x1="44.6" y1="242.20" x2="48.5" y2="242.20"/><line x1="491.5" y1="242.20" x2="487.6" y2="242.20"/><line x1="44.6" y1="230.65" x2="47.1" y2="230.65"/><line x1="491.5" y1="230.65" x2="489.0" y2="230.65"/><line x1="44.6" y1="219.10" x2="47.1" y2="219.10"/><line x1="491.5" y1="219.10" x2="489.0" y2="219.10"/><line x1="44.6" y1="207.55" x2="47.1" y2="207.55"/><line x1="491.5" y1="207.55" x2="489.0" y2="207.55"/><line x1="44.6" y1="196.00" x2="48.5" y2="196.00"/><line x1="491.5" y1="196.00" x2="487.6" y2="196.00"/><line x1="44.6" y1="184.45" x2="47.1" y2="184.45"/><line x1="491.5" y1="184.45" x2="489.0" y2="184.45"/><line x1="44.6" y1="172.90" x2="47.1" y2="172.90"/><line x1="491.5" y1="172.90" x2="489.0" y2="172.90"/><line x1="44.6" y1="161.35" x2="47.1" y2="161.35"/><line x1="491.5" y1="161.35" x2="489.0" y2="161.35"/><line x1="44.6" y1="149.80" x2="48.5" y2="149.80"/><line x1="491.5" y1="149.80" x2="487.6" y2="149.80"/><line x1="44.6" y1="138.25" x2="47.1" y2="138.25"/><line x1="491.5" y1="138.25" x2="489.0" y2="138.25"/><line x1="44.6" y1="126.70" x2="47.1" y2="126.70"/><line x1="491.5" y1="126.70" x2="489.0" y2="126.70"/><line x1="44.6" y1="115.15" x2="47.1" y2="115.15"/><line x1="491.5" y1="115.15" x2="489.0" y2="115.15"/><line x1="44.6" y1="103.60" x2="48.5" y2="103.60"/><line x1="491.5" y1="103.60" x2="487.6" y2="103.60"/><line x1="44.6" y1="92.05" x2="47.1" y2="92.05"/><line x1="491.5" y1="92.05" x2="489.0" y2="92.05"/><line x1="44.6" y1="80.50" x2="47.1" y2="80.50"/><line x1="491.5" y1="80.50" x2="489.0" y2="80.50"/><line x1="44.6" y1="68.95" x2="47.1" y2="68.95"/><line x1="491.5" y1="68.95" x2="489.0" y2="68.95"/><line x1="44.6" y1="57.40" x2="48.5" y2="57.40"/><line x1="491.5" y1="57.40" x2="487.6" y2="57.40"/><line x1="44.6" y1="45.85" x2="47.1" y2="45.85"/><line x1="491.5" y1="45.85" x2="489.0" y2="45.85"/><line x1="44.6" y1="34.30" x2="47.1" y2="34.30"/><line x1="491.5" y1="34.30" x2="489.0" y2="34.30"/><line x1="44.6" y1="22.75" x2="47.1" y2="22.75"/><line x1="491.5" y1="22.75" x2="489.0" y2="22.75"/><line x1="44.6" y1="11.20" x2="48.5" y2="11.20"/><line x1="491.5" y1="11.20" x2="487.6" y2="11.20"/>
</g>
<g><text x="41.9" y="17" text-anchor="end">10</text><text x="41.9" y="63" text-anchor="end">8</text><text x="41.9" y="109" text-anchor="end">6</text><text x="41.9" y="156" text-anchor="end">4</text><text x="41.9" y="202" text-anchor="end">2</text><text x="41.9" y="248" text-anchor="end">0</text><text x="41.9" y="294" text-anchor="end"><tspan dy='1.2'>−</tspan><tspan dx='2.2' dy='-1.2'>2</tspan></text><text x="44.6" y="335" text-anchor="middle">3</text><text x="156.4" y="335" text-anchor="middle">4</text><text x="268.1" y="335" text-anchor="middle">5</text><text x="379.9" y="335" text-anchor="middle">6</text><text x="491.6" y="335" text-anchor="middle">7</text></g>
<line x1="244.2" y1="19.0" x2="280.6" y2="19.0" stroke="#0000ff" stroke-width="2.1"/>
<line x1="244.2" y1="47" x2="280.6" y2="47" stroke="#ff0000" stroke-width="2.3" stroke-dasharray="8.3 5.7"/>
<rect x="243.9" y="69.1" width="37.9" height="11.9" fill="#00ff00"/>
<rect x="243.9" y="97.2" width="37.9" height="11.3" fill="#555555"/>
<line x1="244.2" y1="131.2" x2="281.4" y2="131.2" stroke="#000" stroke-width="2.5" stroke-dasharray="8 4.3 3 3.7"/>
<g><text x="288.6" y="24" style="word-spacing:0.3px">soft photons + photon loops</text><text x="288.6" y="52" style="word-spacing:0px">one<tspan dx="0.6" dy="1.2">−</tspan><tspan dx="0.6" dy="-1.2">photon exchange</tspan></text><text x="288.6" y="80" style="word-spacing:-0.15px">electromagnetic counterterms</text><text x="288.6" y="108" style="word-spacing:0.1px">sum of elm. contributions</text><text x="288.6" y="136" style="word-spacing:0.2px">sum + isospin breaking</text></g>
<text x="113.0" y="297">λ</text><text x="125.1" y="297" textLength="11.3" lengthAdjust="spacingAndGlyphs">=</text><text x="139.0" y="297">5</text><text x="150.1" y="297">MeV</text>
<text transform="translate(10.6,233.4) rotate(-90)" style="font-size:15.87px">radiative correction [%]</text>
<path d="M184.4,357.0 L186.8,355.6 L191.3,366.2 L197.2,347.1 L208.6,347.1" fill="none" stroke="#000" stroke-width="1.25" stroke-linejoin="miter"/>
<path d="M186.6,355.8 L190.7,365.2" fill="none" stroke="#000" stroke-width="2.6"/>
<text x="197.6" y="363" font-style="italic">s</text>
<text x="212.5" y="363">(total cm energy</text><text x="353.0" y="363" text-anchor="end">/ <tspan font-style="italic">m</tspan><tspan font-style="italic" font-size="11" dy="3">π</tspan><tspan dy="-3">)</tspan></text>
</svg>
</body></html>
